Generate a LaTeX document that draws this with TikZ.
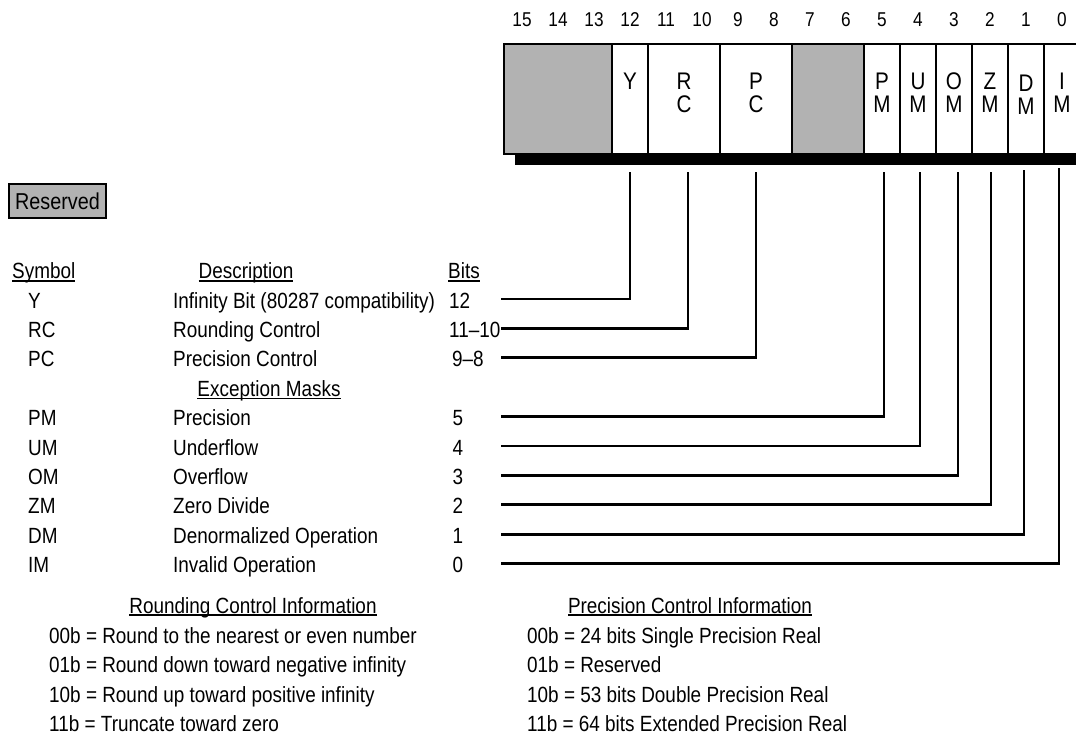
\documentclass[tikz,border=0pt]{standalone}
\usepackage{fontspec}
\setmainfont{Liberation Sans}[FakeStretch=0.86]
\usetikzlibrary{calc}
\newcommand\undl[1]{\setbox0\hbox{#1}\rlap{\rule[-3pt]{\wd0}{1.6pt}}#1}

\begin{document}
\begin{tikzpicture}[x=1pt,y=-1pt,
	cell/.style={draw,line width=2.7pt,inner sep=0pt,outer sep=0pt,minimum height=110pt,anchor=north west},
	rsv/.style={cell,fill=gray!60},
	wire/.style={line width=2.7pt},
	txt/.style={inner sep=0pt,anchor=base west,font=\fontsize{22}{26}\selectfont},
	ctr/.style={txt,anchor=base},
	bitno/.style={inner sep=0pt,anchor=base,font=\fontsize{20}{24}\selectfont},
	regtxt/.style={inner sep=0pt,anchor=base,font=\fontsize{24}{28}\selectfont}]
	\useasboundingbox (0,0) rectangle (1076,738);

	% bit numbers
	\node[bitno] (b15) at (522,27) {15};
	\node[bitno] (b14) at (558,27) {14};
	\node[bitno] (b13) at (594,27) {13};
	\node[bitno] (b12) at (630,27) {12};
	\node[bitno] (b11) at (666,27) {11};
	\node[bitno] (b10) at (702,27) {10};
	\node[bitno] (b9) at (738,27) {9};
	\node[bitno] (b8) at (774,27) {8};
	\node[bitno] (b7) at (810,27) {7};
	\node[bitno] (b6) at (846,27) {6};
	\node[bitno] (b5) at (882,27) {5};
	\node[bitno] (b4) at (918,27) {4};
	\node[bitno] (b3) at (954,27) {3};
	\node[bitno] (b2) at (990,27) {2};
	\node[bitno] (b1) at (1026,27) {1};
	\node[bitno] (b0) at (1062,27) {0};

	% control word with its shadow
	\fill (515,154) rectangle (1080,165);
	\node[rsv,minimum width=108pt] (res-hi) at (504,44) {};
	\node[cell,minimum width=36pt] (y) at (612,44) {};
	\node[cell,minimum width=72pt] (rc) at (648,44) {};
	\node[cell,minimum width=72pt] (pc) at (720,44) {};
	\node[rsv,minimum width=72pt] (res-lo) at (792,44) {};
	\node[cell,minimum width=36pt] (pm) at (864,44) {};
	\node[cell,minimum width=36pt] (um) at (900,44) {};
	\node[cell,minimum width=36pt] (om) at (936,44) {};
	\node[cell,minimum width=36pt] (zm) at (972,44) {};
	\node[cell,minimum width=36pt] (dm) at (1008,44) {};
	\node[cell,minimum width=36pt] (im) at (1044,44) {};

	\node[regtxt] (y-a) at ($(y.north)+(0,46)$) {Y};
	\node[regtxt] (rc-a) at ($(rc.north)+(0,46)$) {R};
	\node[regtxt] (rc-b) at ($(rc.north)+(0,69)$) {C};
	\node[regtxt] (pc-a) at ($(pc.north)+(0,46)$) {P};
	\node[regtxt] (pc-b) at ($(pc.north)+(0,69)$) {C};
	\node[regtxt] (pm-a) at ($(pm.north)+(0,46)$) {P};
	\node[regtxt] (pm-b) at ($(pm.north)+(0,69)$) {M};
	\node[regtxt] (um-a) at ($(um.north)+(0,46)$) {U};
	\node[regtxt] (um-b) at ($(um.north)+(0,69)$) {M};
	\node[regtxt] (om-a) at ($(om.north)+(0,46)$) {O};
	\node[regtxt] (om-b) at ($(om.north)+(0,69)$) {M};
	\node[regtxt] (zm-a) at ($(zm.north)+(0,46)$) {Z};
	\node[regtxt] (zm-b) at ($(zm.north)+(0,69)$) {M};
	\node[regtxt] (dm-a) at ($(dm.north)+(0,48)$) {D};
	\node[regtxt] (dm-b) at ($(dm.north)+(0,71)$) {M};
	\node[regtxt] (im-a) at ($(im.north)+(0,46)$) {I};
	\node[regtxt] (im-b) at ($(im.north)+(0,69)$) {M};

	% key
	\node[draw,line width=2pt,fill=gray!60,minimum width=97pt,minimum height=34pt,inner sep=0pt,outer sep=0pt,anchor=north west,font=\fontsize{23}{26}\selectfont] (rsv-key) at (9,184) {Reserved};

	% table
	\node[txt] (h-sym) at (12,278.6) {\undl{Symbol}};
	\node[ctr] (h-desc) at (246,278.6) {\undl{Description}};
	\node[txt] (h-bits) at (448,278.6) {\undl{Bits}};

	\node[txt] (s-y) at (28,308) {Y};
	\node[txt] (d-y) at (173,308) {Infinity Bit (80287 compatibility)};
	\node[txt] (n-y) at (449,308) {12};
	\node[txt] (s-rc) at (28,337.4) {RC};
	\node[txt] (d-rc) at (173,337.4) {Rounding Control};
	\node[txt] (n-rc) at (449,337.4) {11--10};
	\node[txt] (s-pc) at (28,366.8) {PC};
	\node[txt] (d-pc) at (173,366.8) {Precision Control};
	\node[txt] (n-pc) at (452,366.8) {9--8};
	\node[ctr] (h-exc) at (269,396.2) {\undl{Exception Masks}};
	\node[txt] (s-pm) at (28,425.6) {PM};
	\node[txt] (d-pm) at (173,425.6) {Precision};
	\node[ctr] (n-pm) at (458,425.6) {5};
	\node[txt] (s-um) at (28,455) {UM};
	\node[txt] (d-um) at (173,455) {Underflow};
	\node[ctr] (n-um) at (458,455) {4};
	\node[txt] (s-om) at (28,484.4) {OM};
	\node[txt] (d-om) at (173,484.4) {Overflow};
	\node[ctr] (n-om) at (458,484.4) {3};
	\node[txt] (s-zm) at (28,513.8) {ZM};
	\node[txt] (d-zm) at (173,513.8) {Zero Divide};
	\node[ctr] (n-zm) at (458,513.8) {2};
	\node[txt] (s-dm) at (28,543.2) {DM};
	\node[txt] (d-dm) at (173,543.2) {Denormalized Operation};
	\node[ctr] (n-dm) at (458,543.2) {1};
	\node[txt] (s-im) at (28,572.6) {IM};
	\node[txt] (d-im) at (173,572.6) {Invalid Operation};
	\node[ctr] (n-im) at (458,572.6) {0};

	% leader lines up to the fields
	\coordinate (l-y) at (501,299);
	\coordinate (l-rc) at (501,328.4);
	\coordinate (l-pc) at (501,357.8);
	\coordinate (l-pm) at (501,416.6);
	\coordinate (l-um) at (501,446);
	\coordinate (l-om) at (501,475.4);
	\coordinate (l-zm) at (501,504.8);
	\coordinate (l-dm) at (501,534.2);
	\coordinate (l-im) at (501,563.6);
	\draw[wire] (l-y) -| ($(y.south)+(0,18)$);
	\draw[wire] (l-rc) -| ($(rc.south)+(4,18)$);
	\draw[wire] (l-pc) -| ($(pc.south)+(0,18)$);
	\draw[wire] (l-pm) -| ($(pm.south)+(2,18)$);
	\draw[wire] (l-um) -| ($(um.south)+(2,18)$);
	\draw[wire] (l-om) -| ($(om.south)+(4,18)$);
	\draw[wire] (l-zm) -| ($(zm.south)+(1,18)$);
	\draw[wire] (l-dm) -| ($(dm.south)+(-2,16)$);
	\draw[wire] (l-im) -| ($(im.south)+(-3,14)$);

	% rounding and precision codes
	\node[ctr] (h-rci) at (253,613) {\undl{Rounding Control Information}};
	\node[txt] (r00) at (49,643) {00b = Round to the nearest or even number};
	\node[txt] (r01) at (49,672.5) {01b = Round down toward negative infinity};
	\node[txt] (r10) at (49,702) {10b = Round up toward positive infinity};
	\node[txt] (r11) at (49,731.5) {11b = Truncate toward zero};
	\node[ctr] (h-pci) at (690,613) {\undl{Precision Control Information}};
	\node[txt] (p00) at (527,643) {00b = 24 bits Single Precision Real};
	\node[txt] (p01) at (527,672.5) {01b = Reserved};
	\node[txt] (p10) at (527,702) {10b = 53 bits Double Precision Real};
	\node[txt] (p11) at (527,731.5) {11b = 64 bits Extended Precision Real};
\end{tikzpicture}
\end{document}
